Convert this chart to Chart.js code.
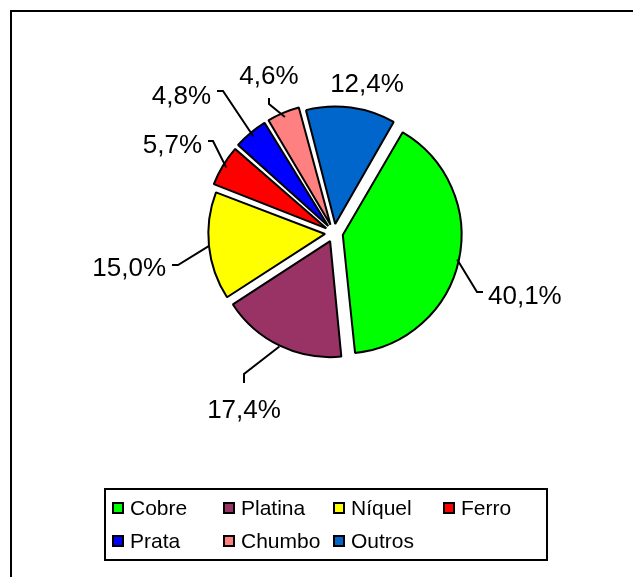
<!DOCTYPE html>
<html>
<head>
<meta charset="utf-8">
<script src="https://cdn.jsdelivr.net/npm/chart.js@4.4.0/dist/chart.umd.min.js"></script>
<style>
  html, body { margin: 0; padding: 0; background: #fff; overflow: hidden; }
  #wrap { position: relative; width: 633px; height: 577px; }
  #frame { position: absolute; left: 10px; top: 10px; width: 700px; height: 700px; border: 2px solid #000; }
  canvas { position: absolute; left: 0; top: 0; }
</style>
</head>
<body>
<div id="wrap">
  <div id="frame"></div>
  <canvas id="chart" width="633" height="577"></canvas>
</div>
<script>
// Data
const labels = ['Cobre', 'Platina', 'Níquel', 'Ferro', 'Prata', 'Chumbo', 'Outros'];
const values = [40.1, 17.4, 15.0, 5.7, 4.8, 4.6, 12.4];
const colors = ['#00FF00', '#993366', '#FFFF00', '#FF0000', '#0000FF', '#FF8080', '#0066CC'];

// Layout of the data labels, relative to the pie centre (text anchor + leader line bends)
const labelLayout = [
  { dx: 154, dy: 71, align: 'left', line: [[143, 59], [149, 59]] },
  { dx: -90, dy: 185, align: 'center', line: [[-90, 141], [-90, 150]] },
  { dx: -168, dy: 43, align: 'right', line: [[-156, 32], [-162, 32]] },
  { dx: -132, dy: -80, align: 'right', line: [[-121, -92], [-126, -92]] },
  { dx: -123, dy: -129, align: 'right', line: [[-111, -142], [-117, -142]] },
  { dx: -65, dy: -149, align: 'center', line: [[-65, -129], [-65, -135]] },
  { dx: 33, dy: -141, align: 'center', line: null }
];
const legendCols = [112, 223, 333, 443];
const legendRows = [508, 541];
const explode = 9;
const FONT = '"Liberation Sans", Arial, Helvetica, sans-serif';

const fmt = v => v.toFixed(1).replace('.', ',') + '%';

const labelPlugin = {
  id: 'pieLabels',
  afterDatasetsDraw(chart) {
    const ctx = chart.ctx;
    const arcs = chart.getDatasetMeta(0).data;
    ctx.save();
    ctx.font = '26px ' + FONT;
    ctx.fillStyle = '#000';
    ctx.strokeStyle = '#000';
    ctx.lineWidth = 2;
    ctx.lineJoin = 'miter';
    arcs.forEach((arc, i) => {
      const p = arc.getProps(['x', 'y', 'startAngle', 'endAngle', 'outerRadius']);
      const mid = (p.startAngle + p.endAngle) / 2;
      const r = p.outerRadius + explode + 2;
      const lay = labelLayout[i];
      if (lay.line) {
        ctx.beginPath();
        ctx.moveTo(p.x + Math.cos(mid) * r, p.y + Math.sin(mid) * r);
        lay.line.forEach(([dx, dy]) => ctx.lineTo(p.x + dx, p.y + dy));
        ctx.stroke();
      }
      ctx.textAlign = lay.align;
      ctx.textBaseline = 'alphabetic';
      ctx.fillText(fmt(values[i]), p.x + lay.dx, p.y + lay.dy);
    });
    ctx.restore();
  }
};

const legendPlugin = {
  id: 'boxLegend',
  afterDraw(chart) {
    const ctx = chart.ctx;
    ctx.save();
    ctx.strokeStyle = '#000';
    ctx.lineWidth = 2;
    ctx.strokeRect(105, 489, 442, 71);
    ctx.font = '21px ' + FONT;
    ctx.textAlign = 'left';
    ctx.textBaseline = 'middle';
    labels.forEach((lab, i) => {
      const x = legendCols[i % 4];
      const y = legendRows[Math.floor(i / 4)];
      ctx.fillStyle = colors[i];
      ctx.fillRect(x, y - 6, 12, 12);
      ctx.strokeRect(x + 1, y - 5, 10, 10);
      ctx.fillStyle = '#000';
      ctx.fillText(lab, x + 18, y + 1);
    });
    ctx.restore();
  }
};

new Chart(document.getElementById('chart'), {
  type: 'pie',
  data: {
    labels: labels,
    datasets: [{
      data: values,
      backgroundColor: colors,
      borderColor: '#000',
      borderWidth: 2,
      offset: explode * 4,
      hoverOffset: 0,
      clip: false
    }]
  },
  options: {
    responsive: false,
    animation: false,
    rotation: 30,
    radius: 115,
    layout: { padding: { left: 204, right: 169, top: 103, bottom: 214 } },
    plugins: {
      legend: { display: false },
      tooltip: { enabled: false }
    }
  },
  plugins: [labelPlugin, legendPlugin]
});
</script>
</body>
</html>
